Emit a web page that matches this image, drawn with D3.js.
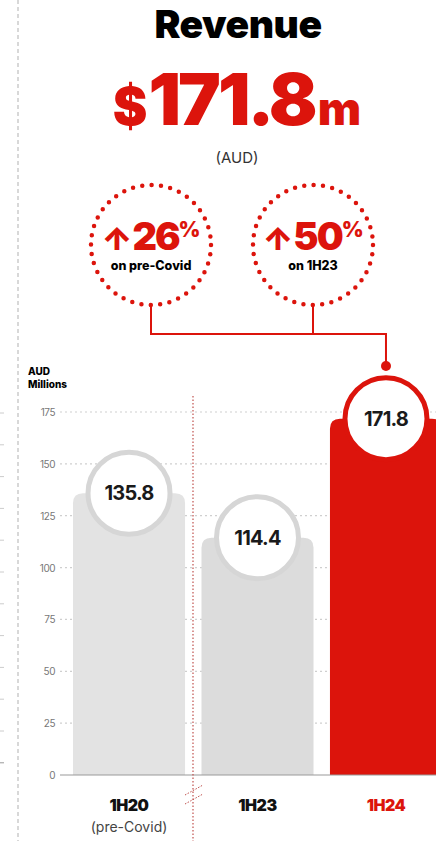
<!DOCTYPE html>
<html>
<head>
<meta charset="utf-8">
<script src="https://cdn.jsdelivr.net/npm/d3@7"></script>
<style>
  html, body { margin: 0; padding: 0; background: #fff; }
  svg { display: block; font-family: Inter, "Open Sans", sans-serif; }
</style>
</head>
<body>
<div id="viz"></div>
<script>

//
// Data
//
var categories = ['1H20', '1H23', '1H24'];
var subLabels = ['(pre-Covid)', '', ''];
var revenue = [135.8, 114.4, 171.8];
var yTicks = [0, 25, 50, 75, 100, 125, 150, 175];
var growth = ['26', '50'];
var growthLabels = ['on pre-Covid', 'on 1H23'];

var red = '#dc140c';
var width = 436, height = 841;

var svg = d3.select('#viz').append('svg')
    .attr('width', width)
    .attr('height', height);

var y = d3.scaleLinear().domain([0, 175]).range([775, 412]);
var x = d3.scaleBand().domain(categories).range([73, 442])
    .paddingInner(0.128).paddingOuter(0);

// left neighbour panel leftovers
svg.append('line')
    .attr('x1', 18).attr('x2', 18).attr('y1', 0).attr('y2', height)
    .attr('stroke', '#c4c4c4').attr('stroke-width', 1.3)
    .attr('stroke-dasharray', '4,3');
svg.selectAll('.lt')
    .data(d3.range(12))
    .enter().append('line')
    .attr('x1', 0).attr('x2', 4)
    .attr('y1', function (d) { return 413 + d * 31.8; })
    .attr('y2', function (d) { return 413 + d * 31.8; })
    .attr('stroke', function (d) { return d === 11 ? '#999' : '#ccc'; });

//
// Header
//
svg.append('text')
    .attr('x', 238).attr('y', 38)
    .attr('text-anchor', 'middle')
    .style('font-size', '39px').style('font-weight', 900)
    .style('letter-spacing', '-0.5px')
    .text('Revenue');

var big = svg.append('text')
    .attr('x', 237).attr('y', 125)
    .attr('text-anchor', 'middle')
    .style('font-weight', 900).attr('fill', red)
    .style('letter-spacing', '-3px');
big.append('tspan').style('font-size', '52px').text('$');
big.append('tspan').style('font-size', '72px').attr('dx', 4).text('171.8');
big.append('tspan').style('font-size', '46px').attr('dx', 3).style('letter-spacing', '0px').text('m');

svg.append('text')
    .attr('x', 237).attr('y', 163)
    .attr('text-anchor', 'middle')
    .style('font-size', '15px').attr('fill', '#333')
    .text('(AUD)');

//
// Growth bubbles
//
var bubbleX = [151, 313];
var bubbleY = 245;

svg.selectAll('.bubble')
    .data(growth)
    .enter().append('circle')
    .attr('cx', function (d, i) { return bubbleX[i]; })
    .attr('cy', bubbleY).attr('r', 60)
    .attr('fill', 'none').attr('stroke', red).attr('stroke-width', 4.5)
    .attr('stroke-linecap', 'round')
    .attr('stroke-dasharray', '0 9.43');

var g = svg.selectAll('.growth')
    .data(growth)
    .enter().append('g')
    .attr('transform', function (d, i) { return 'translate(' + bubbleX[i] + ',0)'; });

var gt = g.append('text')
    .attr('y', 250).attr('text-anchor', 'middle')
    .attr('fill', red).style('font-weight', 900);
gt.append('tspan').style('font-size', '32px').text('↑');
gt.append('tspan').style('font-size', '38px').style('letter-spacing', '-2px').text(function (d) { return d; });
gt.append('tspan').style('font-size', '21px').attr('dy', -13).text('%');

g.append('text')
    .attr('y', 270).attr('text-anchor', 'middle')
    .style('font-size', '12.5px').style('font-weight', 800)
    .text(function (d, i) { return growthLabels[i]; });

// connector to 1H24
var cx3 = x('1H24') + x.bandwidth() / 2;
svg.append('path')
    .attr('d', 'M' + bubbleX[0] + ',306V334H' + cx3 + 'V364M' + bubbleX[1] + ',306V334')
    .attr('fill', 'none').attr('stroke', red).attr('stroke-width', 2);
svg.append('circle')
    .attr('cx', cx3).attr('cy', 366).attr('r', 5).attr('fill', red);

//
// Axis & grid
//
svg.append('text')
    .attr('x', 28).attr('y', 375)
    .style('font-size', '10px').style('font-weight', 800)
    .text('AUD');
svg.append('text')
    .attr('x', 28).attr('y', 388)
    .style('font-size', '10px').style('font-weight', 800)
    .text('Millions');

svg.selectAll('.grid')
    .data(yTicks.slice(1))
    .enter().append('line')
    .attr('x1', 60).attr('x2', width)
    .attr('y1', function (d) { return y(d); })
    .attr('y2', function (d) { return y(d); })
    .attr('stroke', '#cfcfcf').attr('stroke-width', 1.2)
    .attr('stroke-dasharray', '2,3');

svg.selectAll('.tick')
    .data(yTicks)
    .enter().append('text')
    .attr('x', 55).attr('y', function (d) { return y(d) + 4; })
    .attr('text-anchor', 'end')
    .style('font-size', '10px').attr('fill', '#777')
    .style('letter-spacing', '-0.5px')
    .text(function (d) { return d; });

//
// Bars
//
function barPath(d, i) {
    var x0 = x(categories[i]), x1 = x0 + x.bandwidth();
    var y0 = y(d), y1 = y(0), r = 10;
    return 'M' + x0 + ',' + y1 + 'V' + (y0 + r) +
        'Q' + x0 + ',' + y0 + ' ' + (x0 + r) + ',' + y0 +
        'H' + (x1 - r) + 'Q' + x1 + ',' + y0 + ' ' + x1 + ',' + (y0 + r) +
        'V' + y1 + 'Z';
}
var barColors = ['#e3e3e3', '#dcdcdc', red];

svg.selectAll('.bar')
    .data(revenue)
    .enter().append('path')
    .attr('d', barPath)
    .attr('fill', function (d, i) { return barColors[i]; });

svg.append('line')
    .attr('x1', 60).attr('x2', width).attr('y1', y(0)).attr('y2', y(0))
    .attr('stroke', '#9a9a9a').attr('stroke-width', 1.2);

// period break
svg.append('line')
    .attr('x1', 193).attr('x2', 193).attr('y1', 396).attr('y2', height)
    .attr('stroke', '#c0504d').attr('stroke-width', 1.2)
    .attr('stroke-dasharray', '1.5,2');
[0, 9].forEach(function (o) {
    svg.append('line')
        .attr('x1', 185).attr('x2', 203)
        .attr('y1', 795 + o).attr('y2', 785 + o)
        .attr('stroke', '#c0504d').attr('stroke-width', 1)
        .attr('stroke-dasharray', '1.5,1.5');
});

// value bubbles
var vb = svg.selectAll('.vb')
    .data(revenue)
    .enter().append('g')
    .attr('transform', function (d, i) {
        return 'translate(' + (x(categories[i]) + x.bandwidth() / 2) + ',' + y(d) + ')';
    });
vb.append('circle')
    .attr('r', 41)
    .attr('fill', '#fff')
    .attr('stroke', function (d, i) { return i === 2 ? red : '#d6d6d6'; })
    .attr('stroke-width', 5);
vb.append('text')
    .attr('y', 7).attr('text-anchor', 'middle')
    .style('font-size', '20px').style('font-weight', 700)
    .style('letter-spacing', '-0.8px').attr('fill', '#1a1a1a')
    .text(function (d) { return d3.format('.1f')(d); });

//
// Category labels
//
svg.selectAll('.cat')
    .data(categories)
    .enter().append('text')
    .attr('x', function (d) { return x(d) + x.bandwidth() / 2; })
    .attr('y', 811).attr('text-anchor', 'middle')
    .style('font-size', '16px').style('font-weight', 900)
    .style('letter-spacing', '-0.5px')
    .attr('fill', function (d, i) { return i === 2 ? red : '#111'; })
    .text(function (d) { return d; });

svg.selectAll('.sub')
    .data(subLabels)
    .enter().append('text')
    .attr('x', function (d, i) { return x(categories[i]) + x.bandwidth() / 2; })
    .attr('y', 832).attr('text-anchor', 'middle')
    .style('font-size', '14px').attr('fill', '#444')
    .text(function (d) { return d; });

</script>
</body>
</html>
